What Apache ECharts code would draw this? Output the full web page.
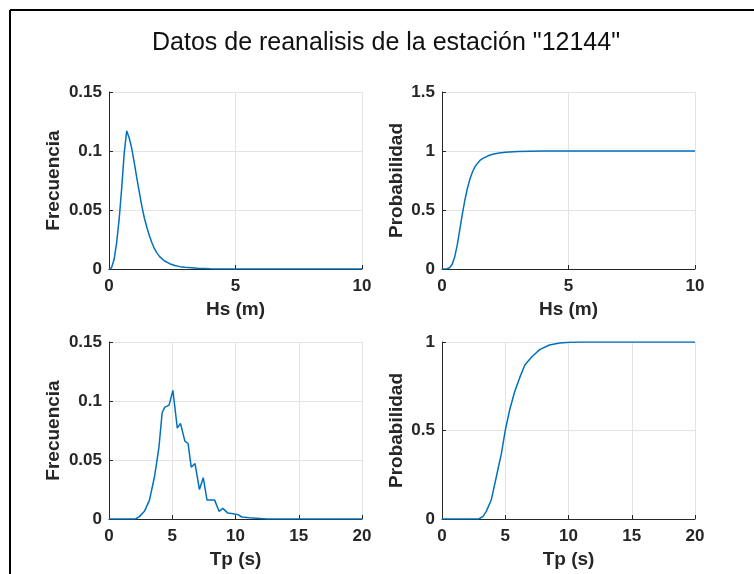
<!DOCTYPE html>
<html>
<head>
<meta charset="utf-8">
<script src="https://cdn.jsdelivr.net/npm/echarts@6/dist/echarts.min.js"></script>
<style>
  html, body { margin: 0; padding: 0; background: #fff; }
  #chart { width: 754px; height: 574px; }
</style>
</head>
<body>
<div id="chart"></div>
<script>
// Hs: frecuencia relativa
const hsX = [0, 0.1, 0.2, 0.3, 0.4, 0.5, 0.6, 0.7, 0.75, 0.8, 0.9, 1.0, 1.1, 1.2, 1.3, 1.4, 1.5, 1.6, 1.7, 1.8, 1.9, 2.0, 2.2, 2.4, 2.6, 2.8, 3.0, 3.5, 4.0, 5.0, 6.0, 7.0, 8.0, 9.0, 10.0]
const hsFreq = [0, 0.001, 0.008, 0.022, 0.042, 0.068, 0.098, 0.117, 0.114, 0.111, 0.102, 0.090, 0.077, 0.065, 0.053, 0.043, 0.035, 0.028, 0.022, 0.017, 0.0135, 0.0105, 0.0068, 0.0045, 0.003, 0.002, 0.0014, 0.0006, 0.0003, 0.0001, 0, 0, 0, 0, 0]

// Hs: probabilidad acumulada
const hsCdfX = [0, 0.2, 0.3, 0.4, 0.5, 0.6, 0.7, 0.8, 0.9, 1.0, 1.1, 1.2, 1.3, 1.4, 1.5, 1.6, 1.8, 2.0, 2.2, 2.5, 3.0, 3.5, 4.0, 5.0, 10.0]
const hsCdf = [0, 0.002, 0.01, 0.04, 0.1, 0.2, 0.33, 0.46, 0.58, 0.68, 0.76, 0.82, 0.865, 0.895, 0.92, 0.935, 0.957, 0.972, 0.981, 0.99, 0.996, 0.998, 0.999, 1, 1]

// Tp: frecuencia relativa
const tpX = [0, 2.1, 2.4, 2.8, 3.2, 3.6, 3.95, 4.2, 4.4, 4.75, 5.05, 5.4, 5.65, 6.0, 6.25, 6.5, 6.8, 7.15, 7.45, 7.75, 8.35, 8.7, 9.0, 9.4, 9.8, 10.2, 10.5, 11.1, 12.5, 20]
const tpFreq = [0, 0, 0.002, 0.0065, 0.016, 0.036, 0.061, 0.090, 0.0946, 0.0965, 0.109, 0.077, 0.081, 0.066, 0.064, 0.044, 0.047, 0.025, 0.035, 0.016, 0.016, 0.0065, 0.009, 0.005, 0.0045, 0.0037, 0.0017, 0.001, 0, 0]

// Tp: probabilidad acumulada
const tpCdfX = [0, 2.9, 3.25, 3.5, 3.9, 4.3, 4.7, 5.0, 5.35, 5.75, 6.15, 6.55, 7.1, 7.75, 8.5, 9.3, 10.1, 11.2, 20]
const tpCdf = [0, 0, 0.015, 0.043, 0.109, 0.24, 0.372, 0.5, 0.617, 0.72, 0.80, 0.87, 0.917, 0.958, 0.983, 0.994, 0.998, 1.0, 1.0]

const titleText = 'Datos de reanalisis de la estación "12144"'
const lineColor = '#0072BD'
const axisColor = '#262626'
const font = "'Liberation Sans', Arial, Helvetica, sans-serif"

const pairs = (xs, ys) => xs.map((x, i) => [x, ys[i]])

const grids = [
  { left: 109, top: 92, width: 253, height: 177 },
  { left: 442, top: 92, width: 253, height: 177 },
  { left: 109, top: 342, width: 253, height: 177 },
  { left: 442, top: 342, width: 253, height: 177 },
]

const labelStyle = { color: axisColor, fontFamily: font, fontWeight: 'bold', fontSize: 17 }
const nameStyle = { color: axisColor, fontFamily: font, fontWeight: 'bold', fontSize: 19 }

function xAxisFor(gridIndex, max, interval, name) {
  return {
    type: 'value', gridIndex, min: 0, max, interval,
    name, nameLocation: 'middle', nameGap: 31, nameTextStyle: nameStyle,
    axisLine: { show: true, onZero: false, lineStyle: { color: axisColor, width: 1 } },
    axisTick: { show: true, inside: true, length: 4, lineStyle: { color: axisColor } },
    axisLabel: Object.assign({ margin: 9 }, labelStyle),
    splitLine: { show: true, lineStyle: { color: '#e3e3e3', width: 1 } },
  }
}

function yAxisFor(gridIndex, max, interval, name, gap) {
  return {
    type: 'value', gridIndex, min: 0, max, interval,
    name, nameLocation: 'middle', nameGap: gap, nameTextStyle: nameStyle,
    axisLine: { show: true, onZero: false, lineStyle: { color: axisColor, width: 1 } },
    axisTick: { show: true, inside: true, length: 4, lineStyle: { color: axisColor } },
    axisLabel: Object.assign({ margin: 7 }, labelStyle),
    splitLine: { show: true, lineStyle: { color: '#e3e3e3', width: 1 } },
  }
}

function lineSeries(index, data) {
  return {
    type: 'line', xAxisIndex: index, yAxisIndex: index,
    data, showSymbol: false, smooth: false, animation: false,
    lineStyle: { color: lineColor, width: 1.5 },
    itemStyle: { color: lineColor },
  }
}

const chart = echarts.init(document.getElementById('chart'), null, { renderer: 'canvas' })
chart.setOption({
  backgroundColor: '#fff',
  animation: false,
  title: {
    text: titleText, left: 381, top: 26, textAlign: 'center',
    textStyle: { color: '#111', fontFamily: font, fontWeight: 'normal', fontSize: 25 },
  },
  graphic: [
    { type: 'line', shape: { x1: 10, y1: 10, x2: 754, y2: 10 }, style: { stroke: '#000', lineWidth: 2 } },
    { type: 'line', shape: { x1: 10, y1: 10, x2: 10, y2: 574 }, style: { stroke: '#000', lineWidth: 2 } },
  ],
  grid: grids,
  xAxis: [
    xAxisFor(0, 10, 5, 'Hs (m)'),
    xAxisFor(1, 10, 5, 'Hs (m)'),
    xAxisFor(2, 20, 5, 'Tp (s)'),
    xAxisFor(3, 20, 5, 'Tp (s)'),
  ],
  yAxis: [
    yAxisFor(0, 0.15, 0.05, 'Frecuencia', 46),
    yAxisFor(1, 1.5, 0.5, 'Probabilidad', 36),
    yAxisFor(2, 0.15, 0.05, 'Frecuencia', 46),
    yAxisFor(3, 1, 0.5, 'Probabilidad', 36),
  ],
  series: [
    lineSeries(0, pairs(hsX, hsFreq)),
    lineSeries(1, pairs(hsCdfX, hsCdf)),
    lineSeries(2, pairs(tpX, tpFreq)),
    lineSeries(3, pairs(tpCdfX, tpCdf)),
  ],
})
</script>
</body>
</html>
